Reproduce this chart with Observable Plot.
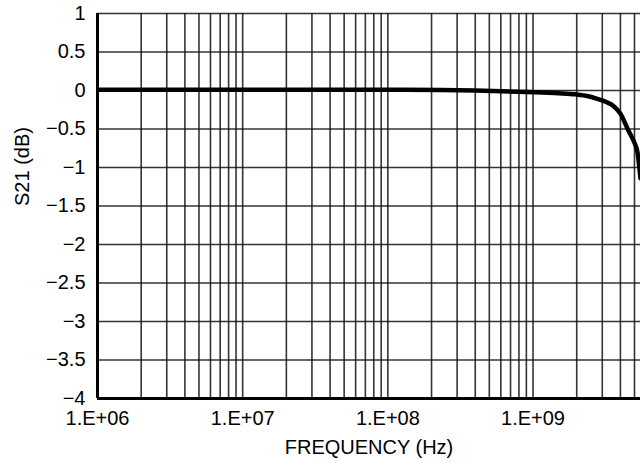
<!DOCTYPE html>
<html>
<head>
<meta charset="utf-8">
<script src="https://cdn.jsdelivr.net/npm/d3@7"></script>
<script src="https://cdn.jsdelivr.net/npm/@observablehq/plot@0.6"></script>
<style>
  html, body { margin: 0; padding: 0; background: #fff; }
</style>
</head>
<body>
<div id="chart"></div>
<script>
// Data
const freq = [1e6, 1e7, 1e8, 2.3e8, 9e8, 1.5e9, 1.96e9, 2.4e9, 2.77e9, 3.2e9, 3.58e9, 4e9, 4.54e9, 5e9, 5.24e9, 5.5e9];
const s21  = [0.01, 0.01, 0.01, 0.005, -0.02, -0.035, -0.05, -0.075, -0.11, -0.15, -0.2, -0.3, -0.52, -0.68, -0.8, -1.14];

// Tick labels
const xDecades = [1e6, 1e7, 1e8, 1e9];
const xLabels = ["1.E+06", "1.E+07", "1.E+08", "1.E+09"];
const yTicks = [1, 0.5, 0, -0.5, -1, -1.5, -2, -2.5, -3, -3.5, -4];
const yLabels = ["1", "0.5", "0", "\u22120.5", "\u22121", "\u22121.5", "\u22122", "\u22122.5", "\u22123", "\u22123.5", "\u22124"];
const xTitle = "FREQUENCY (Hz)";
const yTitle = "S21 (dB)";
const xMax = 5.5e9;

// Minor grid positions: 1..9 times each decade
const xGrid = [];
for (const d of xDecades) for (let m = 1; m <= 9; m++) xGrid.push(d * m);

const table = freq.map((f, i) => ({f, v: s21[i]}));
const font = "'Liberation Sans', Arial, Helvetica, sans-serif";

const chart = Plot.plot({
  width: 640,
  height: 465,
  marginLeft: 97,
  marginTop: 13,
  marginBottom: 67,
  marginRight: 0,
  style: {fontFamily: font, fontSize: "20px", color: "#000", background: "#fff"},
  x: {type: "log", domain: [1e6, xMax]},
  y: {domain: [-4, 1]},
  marks: [
    Plot.gridX(xGrid.filter(d => d <= xMax), {stroke: "#111", strokeOpacity: 0.85, strokeWidth: 1.6}),
    Plot.gridY(yTicks, {stroke: "#111", strokeOpacity: 0.85, strokeWidth: 1.6}),
    Plot.axisX(xDecades, {tickSize: 0, tickPadding: 12, tickFormat: d => xLabels[xDecades.indexOf(d)], label: null, fontSize: 20}),
    Plot.axisY(yTicks, {tickSize: 0, tickPadding: 12, tickFormat: d => yLabels[yTicks.indexOf(d)], label: null, fontSize: 20}),
    Plot.ruleX([1e6], {stroke: "#000", strokeWidth: 3}),
    Plot.ruleY([-4], {stroke: "#000", strokeWidth: 3}),
    Plot.line(table, {x: "f", y: "v", stroke: "#000", strokeWidth: 4.5, curve: "monotone-x", clip: true}),
    Plot.text([xTitle], {frameAnchor: "bottom", lineAnchor: "middle", dy: 49, fontSize: 20}),
    Plot.text([yTitle], {frameAnchor: "left", lineAnchor: "middle", dx: -75, rotate: -90, fontSize: 20})
  ]
});
document.getElementById("chart").appendChild(chart);
</script>
</body>
</html>
